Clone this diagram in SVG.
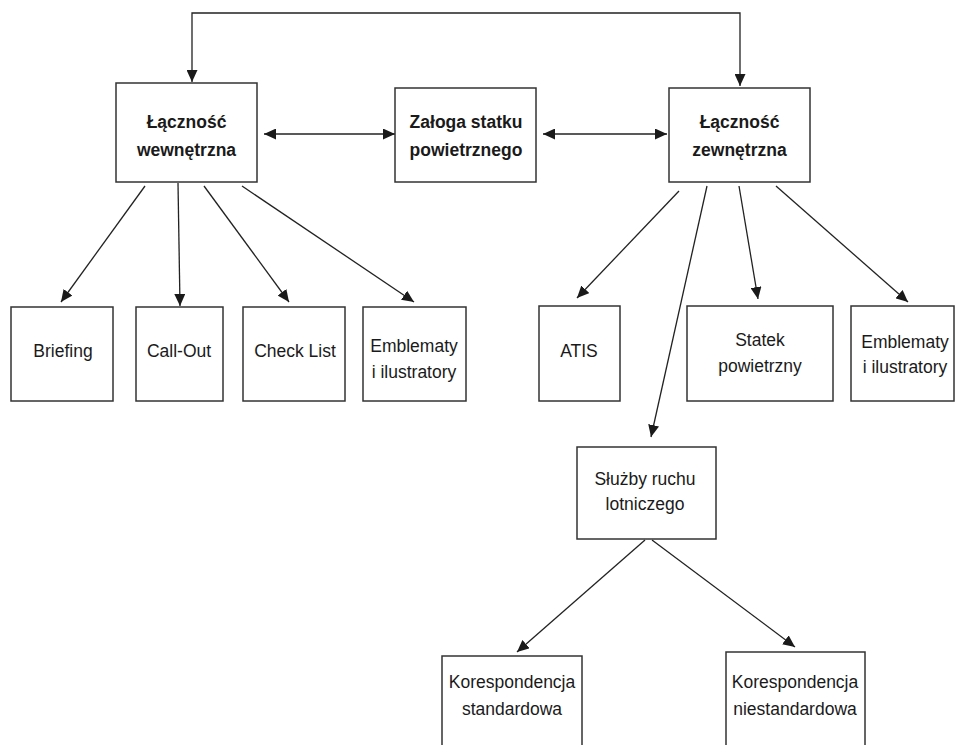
<svg xmlns="http://www.w3.org/2000/svg" width="955" height="745" viewBox="0 0 955 745">
  <style>
    .box { fill: #ffffff; stroke: #333333; stroke-width: 1.5; }
    .t { font-family: "Liberation Sans", Arial, sans-serif; font-size: 17.5px; fill: #1a1a1a; text-anchor: middle; }
    .b { font-weight: bold; }
    .c { fill: none; stroke: #222222; stroke-width: 1.3; }
  </style>
  <defs>
    <marker id="ah" viewBox="0 0 12 11" refX="12" refY="5.5" markerWidth="12" markerHeight="11" markerUnits="userSpaceOnUse" orient="auto-start-reverse">
      <path d="M0,0 L12,5.5 L0,11 z" fill="#1a1a1a"/>
    </marker>
  </defs>
  <rect width="955" height="745" fill="#ffffff"/>

  <g id="connectors">
    <path class="c" d="M192,82 L192,13 L740,13 L740,86" marker-start="url(#ah)" marker-end="url(#ah)"/>
    <line class="c" x1="264" y1="134" x2="395" y2="134" marker-start="url(#ah)" marker-end="url(#ah)"/>
    <line class="c" x1="543" y1="134" x2="667" y2="134" marker-start="url(#ah)" marker-end="url(#ah)"/>
    <line class="c" x1="145" y1="186" x2="61" y2="302" marker-end="url(#ah)"/>
    <line class="c" x1="178" y1="183" x2="180" y2="306" marker-end="url(#ah)"/>
    <line class="c" x1="204" y1="186" x2="289" y2="302" marker-end="url(#ah)"/>
    <line class="c" x1="242" y1="186" x2="414" y2="302" marker-end="url(#ah)"/>
    <line class="c" x1="679" y1="191" x2="577" y2="298" marker-end="url(#ah)"/>
    <line class="c" x1="707" y1="186" x2="651" y2="437" marker-end="url(#ah)"/>
    <line class="c" x1="739" y1="186" x2="758" y2="299" marker-end="url(#ah)"/>
    <line class="c" x1="776" y1="186" x2="908" y2="302" marker-end="url(#ah)"/>
    <line class="c" x1="645" y1="540" x2="517" y2="652" marker-end="url(#ah)"/>
    <line class="c" x1="652" y1="540" x2="795" y2="647" marker-end="url(#ah)"/>
  </g>

  <g id="lacznosc-wewnetrzna">
    <rect class="box" x="116" y="83" width="141" height="99"/>
    <text class="t b" x="186.5" y="128">Łączność</text>
    <text class="t b" x="186.5" y="156">wewnętrzna</text>
  </g>
  <g id="zaloga">
    <rect class="box" x="395" y="88" width="141" height="94"/>
    <text class="t b" x="466" y="128">Załoga statku</text>
    <text class="t b" x="466" y="156">powietrznego</text>
  </g>
  <g id="lacznosc-zewnetrzna">
    <rect class="box" x="669" y="88" width="141" height="94"/>
    <text class="t b" x="739.5" y="128">Łączność</text>
    <text class="t b" x="739.5" y="156">zewnętrzna</text>
  </g>

  <g id="briefing">
    <rect class="box" x="11" y="307" width="102" height="94"/>
    <text class="t" x="63" y="357">Briefing</text>
  </g>
  <g id="call-out">
    <rect class="box" x="136" y="307" width="87" height="94"/>
    <text class="t" x="179" y="357">Call-Out</text>
  </g>
  <g id="check-list">
    <rect class="box" x="243" y="307" width="102" height="94"/>
    <text class="t" x="295" y="357">Check List</text>
  </g>
  <g id="emblematy-1">
    <rect class="box" x="363" y="307" width="103" height="94"/>
    <text class="t" x="414" y="352">Emblematy</text>
    <text class="t" x="414" y="378">i ilustratory</text>
  </g>

  <g id="atis">
    <rect class="box" x="539" y="306" width="81" height="95"/>
    <text class="t" x="579" y="357">ATIS</text>
  </g>
  <g id="statek">
    <rect class="box" x="687" y="306" width="146" height="95"/>
    <text class="t" x="760" y="346">Statek</text>
    <text class="t" x="760" y="372">powietrzny</text>
  </g>
  <g id="emblematy-2">
    <rect class="box" x="851" y="306" width="103" height="95"/>
    <text class="t" x="905" y="348">Emblematy</text>
    <text class="t" x="905" y="373">i ilustratory</text>
  </g>

  <g id="sluzby">
    <rect class="box" x="577" y="447" width="139" height="92"/>
    <text class="t" x="645" y="485">Służby ruchu</text>
    <text class="t" x="645" y="510">lotniczego</text>
  </g>

  <g id="korespondencja-standardowa">
    <rect class="box" x="442" y="656" width="140" height="110"/>
    <text class="t" x="512" y="688">Korespondencja</text>
    <text class="t" x="512" y="715">standardowa</text>
  </g>
  <g id="korespondencja-niestandardowa">
    <rect class="box" x="726" y="652" width="139" height="110"/>
    <text class="t" x="795" y="688">Korespondencja</text>
    <text class="t" x="795" y="715">niestandardowa</text>
  </g>
</svg>
